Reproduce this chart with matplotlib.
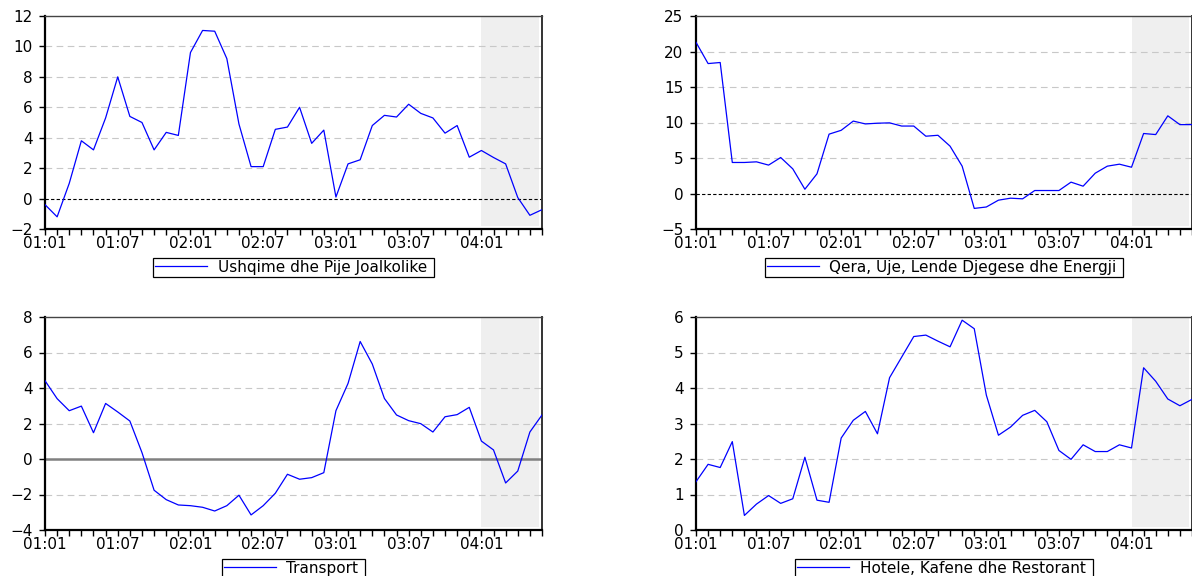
import numpy as np
import matplotlib.pyplot as plt
from matplotlib.ticker import FixedLocator, MultipleLocator

plt.rcParams['font.family'] = ['DejaVu Sans']

# Monthly series 01:01 .. 04:06, annual change in percent
months = np.arange(42)
tick_pos = [0, 6, 12, 18, 24, 30, 36]
tick_labels = ["01:01", "01:07", "02:01", "02:07", "03:01", "03:07", "04:01"]
forecast_start = 36

food = [-0.4, -1.2, 1.0, 3.8, 3.2, 5.3, 8.0, 5.4, 5.0, 3.2, 4.35, 4.15,
        9.6, 11.05, 11.0, 9.2, 4.9, 2.1, 2.1, 4.55, 4.7, 6.0, 3.63, 4.5,
        0.1, 2.28, 2.55, 4.8, 5.47, 5.36, 6.2, 5.6, 5.3, 4.3, 4.8, 2.72,
        3.16, 2.7, 2.28, 0.07, -1.1, -0.73]

housing = [21.3, 18.3, 18.45, 4.37, 4.37, 4.46, 4.0, 5.07, 3.47, 0.6, 2.77, 8.36,
           8.9, 10.2, 9.8, 9.9, 9.95, 9.5, 9.5, 8.07, 8.2, 6.67, 3.85, -2.1,
           -1.9, -0.94, -0.66, -0.75, 0.42, 0.42, 0.42, 1.6, 1.03, 2.86, 3.85, 4.13,
           3.7, 8.45, 8.3, 10.94, 9.7, 9.7]

transport = [4.41, 3.4, 2.72, 2.98, 1.48, 3.13, 2.65, 2.14, 0.36, -1.76, -2.29, -2.59,
             -2.63, -2.72, -2.93, -2.63, -2.04, -3.15, -2.63, -1.93, -0.86, -1.14, -1.05, -0.77,
             2.72, 4.26, 6.62, 5.35, 3.41, 2.48, 2.16, 1.99, 1.52, 2.38, 2.5, 2.91,
             1.01, 0.51, -1.35, -0.68, 1.52, 2.48]

hotels = [1.36, 1.85, 1.76, 2.49, 0.41, 0.73, 0.97, 0.75, 0.88, 2.05, 0.84, 0.78,
          2.59, 3.09, 3.34, 2.71, 4.29, 4.87, 5.45, 5.49, 5.32, 5.16, 5.91, 5.67,
          3.8, 2.67, 2.9, 3.23, 3.37, 3.05, 2.24, 1.99, 2.4, 2.21, 2.21, 2.4,
          2.31, 4.57, 4.19, 3.69, 3.5, 3.68]

W, H = 1192, 576


def panel_rect(left, top, right, bottom):
    # pixel box -> figure fraction
    return [left / W, 1 - bottom / H, (right - left) / W, (bottom - top) / H]


def draw_panel(ax, values, label, ylim, ystep, zero_style):
    ax.set_xlim(0, 41)
    ax.set_ylim(*ylim)

    # forecast window
    ax.axvspan(forecast_start, 40.75, ymin=0.015, ymax=1, color='#efefef', lw=0, zorder=0)

    # dashed horizontal grid, zero handled separately
    for y in np.arange(ylim[0] + ystep, ylim[1], ystep):
        if abs(y) < 1e-9:
            continue
        ax.axhline(y, color='#c8c8c8', lw=0.8, ls=(0, (6, 4)), zorder=1)

    if zero_style == 'dashed':
        ax.axhline(0, color='black', lw=0.8, ls=(0, (3, 2)), zorder=2)
    elif zero_style == 'solid':
        ax.axhline(0, color='#808080', lw=1.8, zorder=2)

    line, = ax.plot(months, values, color='#0000ff', lw=0.9, zorder=3)

    ax.xaxis.set_major_locator(FixedLocator(tick_pos))
    ax.set_xticklabels(tick_labels)
    ax.xaxis.set_minor_locator(MultipleLocator(1))
    ax.yaxis.set_major_locator(MultipleLocator(ystep))

    ax.tick_params(axis='both', which='both', direction='out', length=4, width=1,
                   labelsize=11, color='black')
    ax.tick_params(axis='x', pad=1)
    ax.tick_params(axis='y', pad=5)

    for side in ['left', 'bottom']:
        ax.spines[side].set_linewidth(1.6)
        ax.spines[side].set_color('black')
    ax.spines['right'].set_linewidth(1.4)
    ax.spines['right'].set_color('#333333')
    ax.spines['top'].set_linewidth(1.0)
    ax.spines['top'].set_color('#444444')

    leg = ax.legend([line], [label], loc='upper center', bbox_to_anchor=(0.5, -0.136),
                    frameon=True, fancybox=False, edgecolor='black', framealpha=1,
                    fontsize=11, handlelength=3.4, handletextpad=0.7,
                    borderpad=0.12, borderaxespad=0)
    leg.get_frame().set_linewidth(0.9)
    # a little breathing room on the right of the label text
    leg.get_texts()[0].set_text(label + " ")


fig = plt.figure(figsize=(W / 100, H / 100), dpi=100)

ax1 = fig.add_axes(panel_rect(45, 16, 542, 229))
ax2 = fig.add_axes(panel_rect(696, 16, 1192, 229))
ax3 = fig.add_axes(panel_rect(45, 317, 542, 530))
ax4 = fig.add_axes(panel_rect(696, 317, 1192, 530))

draw_panel(ax1, food, "Ushqime dhe Pije Joalkolike", (-2, 12), 2, 'dashed')
draw_panel(ax2, housing, "Qera, Uje, Lende Djegese dhe Energji", (-5, 25), 5, 'dashed')
draw_panel(ax3, transport, "Transport", (-4, 8), 2, 'solid')
draw_panel(ax4, hotels, "Hotele, Kafene dhe Restorant", (0, 6), 1, None)

fig.savefig("out.png", dpi=100)
